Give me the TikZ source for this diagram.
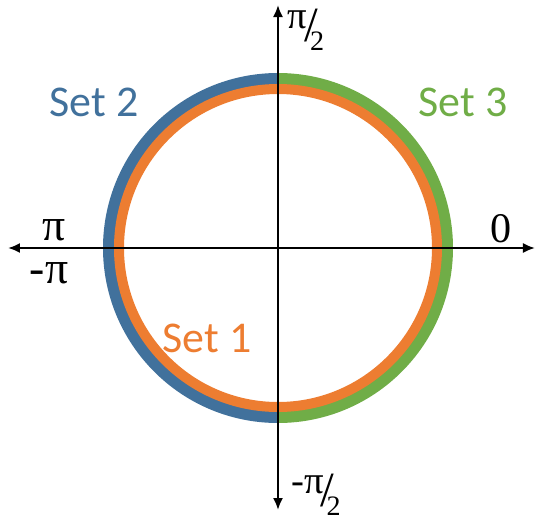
\documentclass[tikz,border=0pt]{standalone}
\usepackage{fontspec}
\setmainfont{Carlito}
\newfontfamily\symfont{Liberation Serif}
\usetikzlibrary{arrows.meta, positioning}
\definecolor{setblue}{RGB}{65,113,156}
\definecolor{setorange}{RGB}{237,125,49}
\definecolor{setgreen}{RGB}{112,173,71}
\newcommand{\halfpi}{π\kern-0.08em\raisebox{-0.26cm}{\fontsize{28}{28}\selectfont /}\kern-0.2em\raisebox{-0.44cm}{\fontsize{16}{16}\selectfont 2}}

\begin{document}
\begin{tikzpicture}[
  axis/.style={line width=1.1pt, -{Latex[length=0.24cm, width=0.2cm]}},
  outer/.style={line width=0.28cm},
  inner/.style={line width=0.2cm, draw=setorange},
  setlbl/.style={font=\fontsize{25}{25}\selectfont, inner sep=0pt},
  anglbl/.style={font=\symfont\fontsize{24}{24}\selectfont, inner sep=0pt}
]
\useasboundingbox (-5.56,-5.42) rectangle (5.2,4.96);
\coordinate (O) at (0,0);
% Arcs
\draw[outer, setblue] (0,3.36) arc[start angle=90, end angle=270, radius=3.36];
\draw[outer, setgreen] (0,3.36) arc[start angle=90, end angle=-90, radius=3.36];
\draw[inner] (O) circle[radius=3.18];
% Axes
\coordinate (W) at (-5.4,0);
\coordinate (E) at (5.14,0);
\coordinate (N) at (0,4.86);
\coordinate (S) at (0,-5.24);
\draw[axis] (O) -- (W);
\draw[axis] (O) -- (E);
\draw[axis] (O) -- (N);
\draw[axis] (O) -- (S);
% Angle labels
\node[anglbl, font=\symfont\fontsize{26}{26}\selectfont, anchor=base] (pi) at (-4.48,0.15) {π};
\node[anglbl, font=\symfont\fontsize{26}{26}\selectfont, anchor=base] (mpi) at (-4.58,-0.7) {-π};
\node[anglbl] (zero) at (4.46,0.38) {0};
\node[anglbl, font=\symfont\fontsize{22}{22}\selectfont, anchor=base west] (top) at (0.19,4.4) {\halfpi};
\node[anglbl, font=\symfont\fontsize{22}{22}\selectfont, anchor=base west] (bot) at (0.26,-4.9) {-\halfpi};
% Set labels
\node[setlbl, text=setblue] (set2) at (-3.68,2.92) {Set 2};
\node[setlbl, text=setgreen] (set3) at (3.7,2.92) {Set 3};
\node[setlbl, text=setorange] (set1) at (-1.42,-1.8) {Set 1};
\end{tikzpicture}
\end{document}
